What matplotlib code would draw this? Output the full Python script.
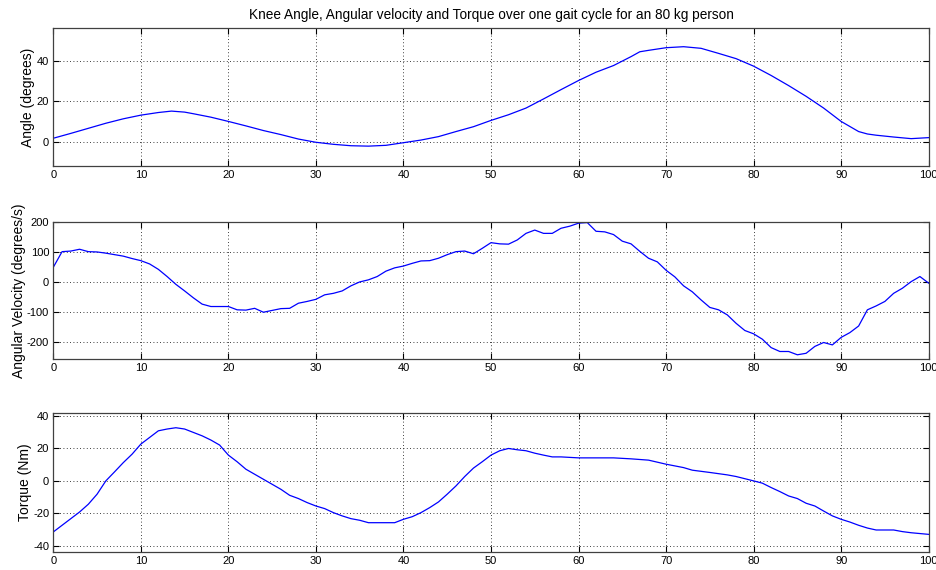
import matplotlib.pyplot as plt

plt.rcParams['font.family'] = ['Liberation Sans', 'DejaVu Sans']
plt.rcParams['axes.unicode_minus'] = False

# knee angle (degrees) over % gait cycle
angle_x = [0, 2, 4, 6, 8, 10, 12, 13.5, 15, 16, 18, 20, 22, 24, 26, 28, 30, 32, 34,
           36, 38, 40, 42, 44, 46, 48, 50, 52, 54, 56, 58, 60, 62, 64, 66, 67, 68,
           70, 72, 74, 76, 78, 80, 82, 84, 86, 88, 90, 92, 93, 94, 96, 98, 100]
angle = [1.7, 4.1, 6.6, 9.1, 11.3, 13.1, 14.4, 15.1, 14.6, 13.8, 12.1, 10.0, 7.8,
         5.5, 3.5, 1.3, -0.3, -1.3, -2.0, -2.2, -1.8, -0.5, 0.8, 2.5, 5.0, 7.4,
         10.5, 13.3, 16.6, 21.1, 25.7, 30.2, 34.3, 37.6, 42.0, 44.4, 45.1, 46.4,
         46.9, 46.1, 43.6, 41.0, 37.3, 32.7, 27.7, 22.4, 16.6, 10.0, 5.0, 3.8,
         3.2, 2.3, 1.5, 2.0]

# angular velocity (degrees/s), one sample per % of the cycle
vel_x = list(range(0, 101))
velocity = [50, 102, 104, 110, 102, 101, 97, 92, 87, 79,
            72, 61, 43, 19, -7, -29, -52, -73, -81, -81,
            -81, -92, -93, -87, -100, -94, -88, -87, -70, -64,
            -57, -42, -37, -29, -12, 1, 8, 19, 37, 48,
            54, 63, 71, 72, 80, 92, 102, 104, 95, 113,
            132, 128, 127, 141, 163, 174, 163, 163, 180, 187,
            197, 199, 170, 168, 159, 137, 128, 103, 80, 68,
            40, 18, -12, -32, -59, -84, -92, -109, -137, -161,
            -172, -190, -218, -231, -231, -242, -237, -214, -201, -209,
            -184, -168, -146, -92, -79, -64, -37, -20, 2, 19, -3]

# knee torque (Nm) for an 80 kg person
torque_x = [0, 2, 3, 4, 5, 6, 7, 8, 9, 10, 11, 12, 13, 14, 15, 16, 17, 18, 19, 20,
            21, 22, 23, 24, 25, 26, 27, 28, 29, 30, 31, 32, 33, 34, 35, 36, 37, 38,
            39, 40, 41, 42, 43, 44, 45, 46, 47, 48, 49, 50, 51, 52, 53, 54, 55, 56,
            57, 58, 60, 62, 64, 66, 68, 70, 72, 73, 75, 77, 78, 80, 81, 82, 83, 84,
            85, 86, 87, 88, 89, 90, 91, 92, 93, 94, 95, 96, 97, 98, 100]
torque = [-31.5, -23.3, -19.2, -14.4, -8.2, 0.0, 5.6, 11.3, 16.5, 22.7, 26.8, 30.9,
          32.0, 32.8, 32.0, 29.9, 27.8, 25.2, 22.1, 15.9, 11.8, 7.2, 4.1, 1.0,
          -2.1, -5.2, -8.9, -10.9, -13.4, -15.5, -17.1, -19.6, -21.6, -23.3, -24.3,
          -25.8, -25.8, -25.8, -25.8, -23.7, -22.1, -19.6, -16.5, -13.0, -8.2, -3.1,
          2.7, 7.9, 11.8, 15.9, 18.6, 20.0, 19.2, 18.6, 17.1, 15.9, 14.8, 14.8, 14.2,
          14.2, 14.2, 13.6, 12.8, 10.3, 8.2, 6.6, 5.2, 3.7, 2.7, 0.0, -1.4, -4.1,
          -6.6, -9.3, -10.9, -13.8, -15.5, -18.6, -21.6, -23.7, -25.4, -27.4, -29.1,
          -30.3, -30.3, -30.3, -31.3, -32.0, -33.0]

x_ticks = list(range(0, 101, 10))
title = 'Knee Angle, Angular velocity and Torque over one gait cycle for an 80 kg person'

fig = plt.figure(figsize=(9.37, 5.7), dpi=100)
ax1 = fig.add_axes([0.0569, 0.7088, 0.9342, 0.2416])
ax2 = fig.add_axes([0.0569, 0.3702, 0.9342, 0.2409])
ax3 = fig.add_axes([0.0569, 0.0321, 0.9342, 0.2428])

ax1.plot(angle_x, angle, color='blue', lw=0.9)
ax1.set_ylim(-12, 56)
ax1.set_yticks([0, 20, 40])
ax1.set_ylabel('Angle (degrees)', fontsize=10, labelpad=1)
ax1.set_title(title, fontsize=9.8, pad=7)

ax2.plot(vel_x, velocity, color='blue', lw=0.9)
ax2.set_ylim(-256, 202)
ax2.set_yticks([-200, -100, 0, 100, 200])
ax2.set_ylabel('Angular Velocity (degrees/s)', fontsize=10, labelpad=1)

ax3.plot(torque_x, torque, color='blue', lw=0.9)
ax3.set_ylim(-43.7, 41.7)
ax3.set_yticks([-40, -20, 0, 20, 40])
ax3.set_ylabel('Torque (Nm)', fontsize=10, labelpad=1)

for ax in (ax1, ax2, ax3):
    ax.set_xlim(0, 100)
    ax.set_xticks(x_ticks)
    ax.grid(True, color='black', linestyle=(0, (1, 3)), linewidth=0.6)
    ax.tick_params(direction='in', length=4, width=0.8, labelsize=8,
                   top=True, right=True, pad=3)
    for side in ax.spines.values():
        side.set_color('#404040')
        side.set_linewidth(0.9)

fig.savefig('out.png', dpi=100)
